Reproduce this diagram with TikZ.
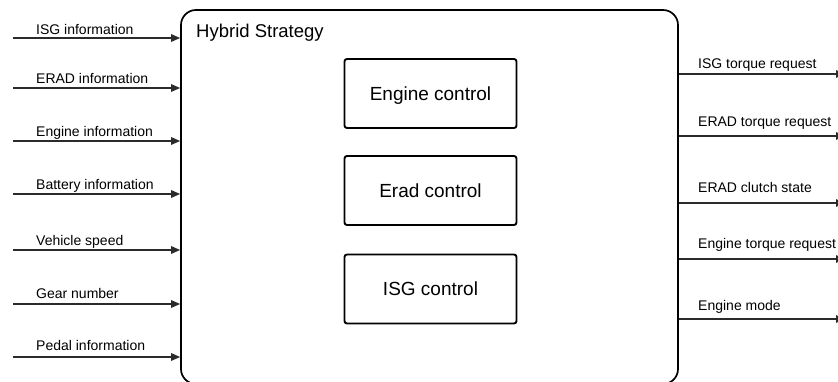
\documentclass[tikz,border=0pt]{standalone}
\usepackage{fontspec}
\setmainfont{Liberation Sans}
\usetikzlibrary{arrows.meta}
\definecolor{wire}{HTML}{2B2B2B}
\tikzset{
  signal/.style={draw=wire, line width=1.3pt, -{Triangle[length=9pt,width=7.5pt]}},
  lbl/.style={inner sep=0pt, anchor=base west, font=\fontsize{14}{16}\selectfont},
  ctrlbox/.style={draw=black, line width=1.9pt, rounded corners=2.5pt, inner sep=0pt,
    minimum width=172pt, minimum height=69pt, text height=13.6pt, text depth=0pt,
    font=\fontsize{19}{22}\selectfont},
  stratbox/.style={draw=black, line width=1.7pt, rounded corners=15pt, inner sep=0pt,
    minimum width=497pt, minimum height=374pt}
}
\begin{document}
\begin{tikzpicture}[x=1pt, y=-1pt]
\clip (0,0) rectangle (838,382);
\fill[white] (0,0) rectangle (838,382);

% strategy block and its three control units
\node[stratbox] (hs) at (429.5,197) {};
\node[inner sep=0pt, anchor=base west, font=\fontsize{18.5}{22}\selectfont] (title) at (196,37.7) {Hybrid Strategy};
\node[ctrlbox] (eng) at (430.5,93.5) {Engine control};
\node[ctrlbox] (erad) at (430.5,190.5) {Erad control};
\node[ctrlbox] (isg) at (430.5,289) {ISG control};

% input signals
\foreach \k/\y/\b/\txt in {1/38/34.5/ISG information, 2/88/83.5/ERAD information,
    3/141/136.5/Engine information, 4/194/190/Battery information,
    5/250/245.5/Vehicle speed, 6/304/298.5/Gear number, 7/357/350.5/Pedal information}{
  \coordinate (in\k) at (13,\y);
  \node[lbl] (inl\k) at (36,\b) {\txt};
  \draw[signal] (in\k) -- (in\k -| hs.west);
}

% output signals
\foreach \k/\y/\b/\txt in {1/74/68.5/ISG torque request, 2/136/127/ERAD torque request,
    3/203/193/ERAD clutch state, 4/259/248/Engine torque request, 5/319/310.5/Engine mode}{
  \coordinate (out\k) at (845,\y);
  \node[lbl] (outl\k) at (698,\b) {\txt};
  \draw[signal] (out\k -| hs.east) -- (out\k);
}
\end{tikzpicture}
\end{document}
